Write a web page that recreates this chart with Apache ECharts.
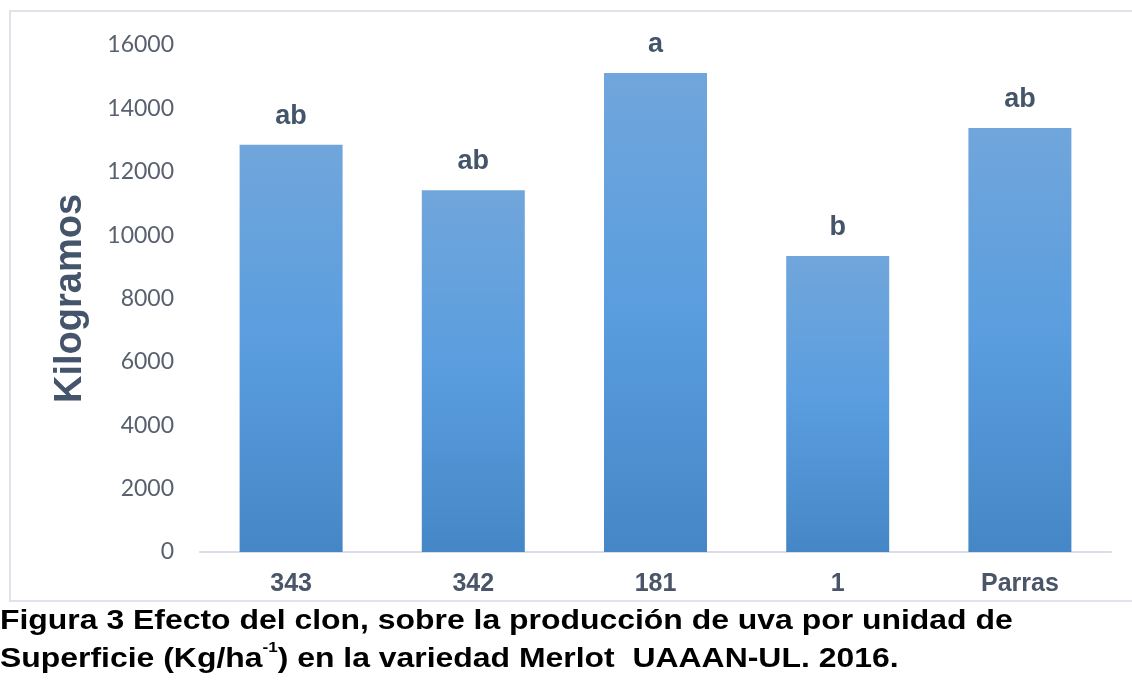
<!DOCTYPE html>
<html>
<head>
<meta charset="utf-8">
<script src="https://cdn.jsdelivr.net/npm/echarts@6/dist/echarts.min.js"></script>
<style>
html,body{margin:0;padding:0;background:#fff;}
#chart{width:1132px;height:684px;}
</style>
</head>
<body>
<div id="chart"></div>
<script>
const categories = ['343', '342', '181', '1', 'Parras'];
const values = [12850, 11420, 15120, 9340, 13380];
const letters = ['ab', 'ab', 'a', 'b', 'ab'];
const yTicks = [0, 2000, 4000, 6000, 8000, 10000, 12000, 14000, 16000];

const chart = echarts.init(document.getElementById('chart'), null, {renderer: 'canvas'});
chart.setOption({
  animation: false,
  backgroundColor: '#ffffff',
  graphic: [
    {
      type: 'rect', z: -1,
      shape: {x: 10, y: 11, width: 1140, height: 590},
      style: {fill: 'none', stroke: '#dfe3ea', lineWidth: 2}
    },
    {
      type: 'text', x: 0, y: 602, scaleX: 1.14, originX: 0,
      style: {
        text: '{b|Figura 3 Efecto del clon, sobre la producción de uva por unidad de}\n{b|Superficie (Kg/ha}{s|-1}{b|) en la variedad Merlot  UAAAN-UL. 2016.}',
        rich: {
          b: {fontFamily: 'Liberation Sans, Arial', fontWeight: 'bold', fontSize: 28, fill: '#000', lineHeight: 38},
          s: {fontFamily: 'Liberation Sans, Arial', fontWeight: 'bold', fontSize: 15, fill: '#000', lineHeight: 38, verticalAlign: 'top', padding: [0,0,14,0]}
        }
      }
    }
  ],
  grid: {left: 200, right: 21, top: 45, bottom: 132},
  xAxis: {
    type: 'category',
    data: categories,
    axisLine: {show: true, lineStyle: {color: '#d9dee6', width: 2}},
    axisTick: {show: false},
    axisLabel: {color: '#4a5568', fontFamily: 'Liberation Sans, Arial', fontWeight: 'bold', fontSize: 25, margin: 20}
  },
  yAxis: {
    type: 'value',
    min: 0, max: 16000, interval: 2000,
    name: 'Kilogramos',
    nameLocation: 'middle',
    nameGap: 110,
    nameTextStyle: {color: '#44546a', fontFamily: 'Liberation Sans, Arial', fontWeight: 'bold', fontSize: 38},
    axisLine: {show: false},
    axisTick: {show: false},
    splitLine: {show: false},
    axisLabel: {
      color: '#59606e', fontFamily: 'Lato, Open Sans', fontSize: 23, margin: 26,
      formatter: v => yTicks.includes(v) ? String(v) : ''
    }
  },
  series: [{
    type: 'bar',
    data: values,
    barWidth: 103,
    itemStyle: {
      color: new echarts.graphic.LinearGradient(0, 0, 0, 1, [
        {offset: 0, color: '#70a6db'},
        {offset: 0.5, color: '#5a9ddf'},
        {offset: 1, color: '#4587c6'}
      ])
    },
    label: {
      show: true, position: 'top', distance: 15,
      formatter: p => letters[p.dataIndex],
      color: '#44546a', fontFamily: 'Liberation Sans, Arial', fontWeight: 'bold', fontSize: 27
    }
  }]
});
</script>
</body>
</html>
